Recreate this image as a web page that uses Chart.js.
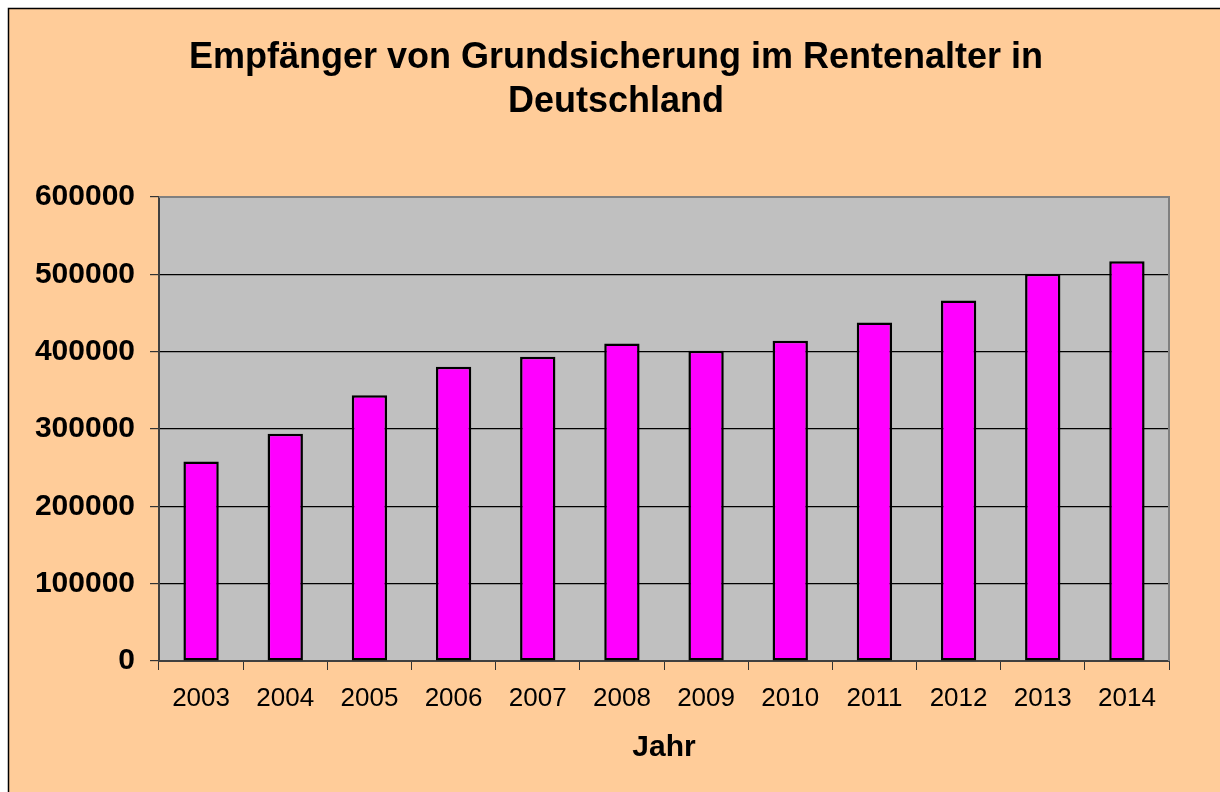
<!DOCTYPE html>
<html>
<head>
<meta charset="utf-8">
<script src="https://cdn.jsdelivr.net/npm/chart.js@4/dist/chart.umd.min.js"></script>
<style>
  html, body { margin: 0; padding: 0; background: #fff; }
  #wrap { width: 1220px; height: 792px; position: relative; }
</style>
</head>
<body>
<div id="wrap"><canvas id="grundChart" width="1220" height="792"></canvas></div>
<script>
// Empfänger von Grundsicherung im Rentenalter
const years = ['2003', '2004', '2005', '2006', '2007', '2008', '2009', '2010', '2011', '2012', '2013', '2014'];
const recipients = [258000, 294000, 343700, 380400, 393300, 410700, 401100, 414000, 437800, 466300, 500800, 516800];
const yTicks = [0, 100000, 200000, 300000, 400000, 500000, 600000];
const titleLines = ['Empfänger von Grundsicherung im Rentenalter in', 'Deutschland'];

const FONT = '"Liberation Sans", Arial, sans-serif';
const PEACH = '#FFCC99';

// Hintergrund, Rahmen, Plotfläche und Titel zeichnen
const backdrop = {
    id: 'backdrop',
    beforeDraw(chart) {
        const ctx = chart.ctx;
        const area = chart.chartArea;
        ctx.save();
        ctx.fillStyle = '#ffffff';
        ctx.fillRect(0, 0, chart.width, chart.height);
        ctx.fillStyle = PEACH;
        ctx.fillRect(8, 8, chart.width - 8, chart.height - 8);
        ctx.strokeStyle = '#000';
        ctx.lineWidth = 1.5;
        ctx.beginPath();
        ctx.moveTo(8.5, chart.height);
        ctx.lineTo(8.5, 8.5);
        ctx.lineTo(chart.width, 8.5);
        ctx.stroke();
        ctx.fillStyle = '#C0C0C0';
        ctx.fillRect(area.left, area.top, area.right - area.left, area.bottom - area.top);

        // Titel (zentriert über der gesamten Grafik wie im Original)
        ctx.fillStyle = '#000';
        ctx.font = 'bold 36px ' + FONT;
        ctx.textAlign = 'center';
        ctx.textBaseline = 'alphabetic';
        ctx.fillText(titleLines[0], 616, 68);
        ctx.fillText(titleLines[1], 616, 112);
        ctx.restore();
    },
    afterDatasetsDraw(chart) {
        const ctx = chart.ctx;
        const area = chart.chartArea;
        ctx.save();
        ctx.strokeStyle = '#808080';
        ctx.lineWidth = 2;
        ctx.beginPath();
        ctx.moveTo(area.left, area.top);
        ctx.lineTo(area.right, area.top);
        ctx.lineTo(area.right, area.bottom);
        ctx.stroke();
        ctx.restore();
    }
};

const ctx = document.getElementById('grundChart').getContext('2d');
new Chart(ctx, {
    type: 'bar',
    data: {
        labels: years,
        datasets: [{
            data: recipients,
            backgroundColor: '#FF00FF',
            borderColor: '#000000',
            borderWidth: 2.5,
            borderSkipped: false,
            barPercentage: 0.42,
            categoryPercentage: 1.0
        }]
    },
    options: {
        responsive: false,
        animation: false,
        devicePixelRatio: 1,
        layout: { padding: { left: 8, right: 51, top: 197, bottom: 0 } },
        plugins: {
            legend: { display: false },
            tooltip: { enabled: false },
            title: { display: false }
        },
        scales: {
            y: {
                min: 0,
                max: 600000,
                afterFit(scale) { scale.width = 151; },
                afterBuildTicks(scale) { scale.ticks = yTicks.map(v => ({ value: v })); },
                ticks: {
                    color: '#000',
                    padding: 15,
                    font: { family: FONT, size: 30, weight: 'bold' },
                    callback: v => String(v)
                },
                grid: {
                    color: '#000',
                    lineWidth: 1.2,
                    tickLength: 9,
                    tickColor: '#333'
                },
                border: { display: true, color: '#404040', width: 2 }
            },
            x: {
                afterFit(scale) { scale.height = 131; },
                ticks: {
                    color: '#000',
                    padding: 13,
                    font: { family: FONT, size: 26 }
                },
                grid: {
                    offset: true,
                    drawOnChartArea: false,
                    tickLength: 9,
                    tickColor: '#333'
                },
                border: { display: true, color: '#404040', width: 2 },
                title: {
                    display: true,
                    text: 'Jahr',
                    color: '#000',
                    font: { family: FONT, size: 30, weight: 'bold' },
                    padding: { top: 0, bottom: 26 }
                }
            }
        }
    },
    plugins: [backdrop]
});
</script>
</body>
</html>
